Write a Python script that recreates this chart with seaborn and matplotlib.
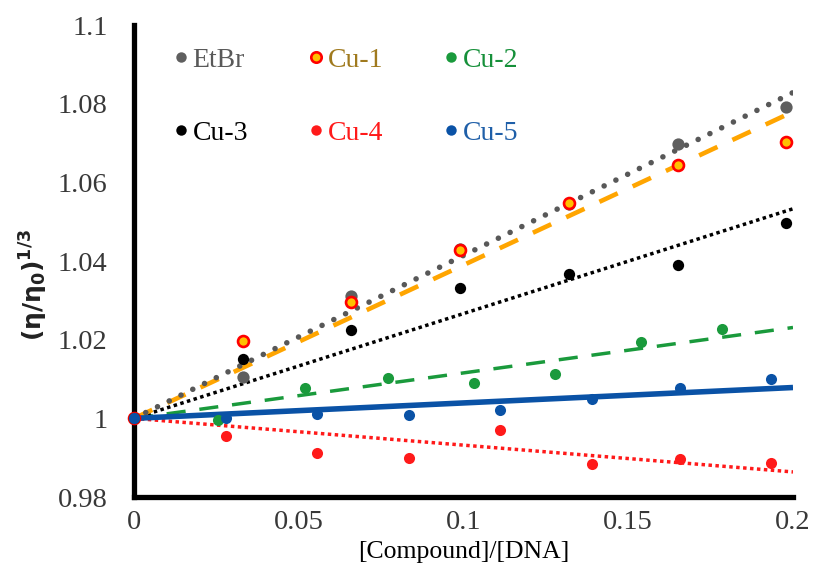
import numpy as np
import pandas as pd
import matplotlib
matplotlib.use("Agg")
import matplotlib.pyplot as plt
from matplotlib.lines import Line2D
import seaborn as sns

# ---- data ----
x_a = [0, 0.033, 0.066, 0.099, 0.132, 0.165, 0.198]          # EtBr, Cu-1, Cu-3
etbr = [1.0, 1.0106, 1.031, 1.043, 1.0545, 1.0698, 1.0792]
cu1 = [1.0, 1.0196, 1.0296, 1.0427, 1.0548, 1.0645, 1.0703]
cu3 = [1.0, 1.0152, 1.0224, 1.0332, 1.0368, 1.039, 1.0497]
x_b = [0, 0.0256, 0.0518, 0.0771, 0.1031, 0.1278, 0.1538, 0.1784]  # Cu-2
cu2 = [1.0, 0.9995, 1.0076, 1.0103, 1.0091, 1.0112, 1.0194, 1.0228]
x_c = [0, 0.028, 0.0556, 0.0834, 0.111, 0.139, 0.1658, 0.1934]     # Cu-4, Cu-5
cu4 = [1.0, 0.9955, 0.9913, 0.990, 0.997, 0.9883, 0.9896, 0.9887]
cu5 = [1.0, 1.0, 1.0012, 1.0008, 1.0021, 1.0048, 1.0076, 1.0099]

series_names = ["EtBr", "Cu-1", "Cu-2", "Cu-3", "Cu-4", "Cu-5"]
x_ticks = [0, 0.05, 0.1, 0.15, 0.2]
x_tick_labels = ["0", "0.05", "0.1", "0.15", "0.2"]
y_ticks = [0.98, 1.0, 1.02, 1.04, 1.06, 1.08, 1.1]
y_tick_labels = ["0.98", "1", "1.02", "1.04", "1.06", "1.08", "1.1"]

sns.set_theme(style="white")
plt.rcParams["font.family"] = ["Liberation Serif", "DejaVu Serif"]

fig = plt.figure(figsize=(8.13, 5.78), dpi=100)
ax = fig.add_axes([0.1648, 0.1401, 0.8106, 0.8166])

data = {
    "EtBr": (x_a, etbr),
    "Cu-1": (x_a, cu1),
    "Cu-2": (x_b, cu2),
    "Cu-3": (x_a, cu3),
    "Cu-4": (x_c, cu4),
    "Cu-5": (x_c, cu5),
}

line_style = {
    "Cu-1": dict(color="#FFA500", lw=3.3, ls=(0, (4.4, 3.6)), dash_capstyle="butt"),
    "EtBr": dict(color="#585858", lw=4.0, ls=(0, (0.01, 2.35)), dash_capstyle="round"),
    "Cu-2": dict(color="#1a9a3c", lw=2.5, ls=(0, (5.5, 4.0)), dash_capstyle="butt"),
    "Cu-3": dict(color="black", lw=2.5, ls=(0, (1, 1)), dash_capstyle="butt"),
    "Cu-4": dict(color="#ff1a1a", lw=2.5, ls=(0, (1, 1)), dash_capstyle="butt"),
    "Cu-5": dict(color="#0a52a6", lw=4.0, ls="-", solid_capstyle="butt"),
}

marker_style = {
    "EtBr": dict(color="#5f5f5f", edgecolor="#5f5f5f", s=78, linewidth=0),
    "Cu-1": dict(color="#FFC000", edgecolor="#ff0000", s=62, linewidth=1.9),
    "Cu-2": dict(color="#1a9a3c", edgecolor="#1a9a3c", s=64, linewidth=0),
    "Cu-3": dict(color="black", edgecolor="black", s=66, linewidth=0),
    "Cu-4": dict(color="#ff1a1a", edgecolor="#ff1a1a", s=64, linewidth=0),
    "Cu-5": dict(color="#0a52a6", edgecolor="#0a52a6", s=64, linewidth=0),
}

# trend lines (least squares, forced through (0, 1))
xfit = np.array([0.0, 0.2])
for name in ["Cu-2", "Cu-4", "Cu-3", "Cu-1", "EtBr", "Cu-5"]:
    xs, ys = np.array(data[name][0]), np.array(data[name][1])
    slope = np.sum(xs * (ys - 1.0)) / np.sum(xs ** 2)
    fit_df = pd.DataFrame({"x": xfit, "y": 1.0 + slope * xfit})
    st = dict(line_style[name])
    ls = st.pop("ls")
    lw = st.pop("lw")
    color = st.pop("color")
    sns.lineplot(data=fit_df, x="x", y="y", ax=ax, color=color, linewidth=lw,
                 linestyle=ls, zorder=3, legend=False, **st)

for name in series_names:
    xs, ys = data[name]
    df = pd.DataFrame({"x": xs, "y": ys})
    sns.scatterplot(data=df, x="x", y="y", ax=ax, zorder=4, clip_on=False,
                    legend=False, **marker_style[name])

ax.set_xlim(0, 0.2)
ax.set_ylim(0.98, 1.1)
ax.set_xticks(x_ticks)
ax.set_xticklabels(x_tick_labels)
ax.set_yticks(y_ticks)
ax.set_yticklabels(y_tick_labels)
ax.tick_params(axis="both", length=0, labelsize=20.5, colors="#383838")
ax.tick_params(axis="y", pad=19)
ax.tick_params(axis="x", pad=9)

for s in ["top", "right"]:
    ax.spines[s].set_visible(False)
for s in ["left", "bottom"]:
    ax.spines[s].set_color("black")
    ax.spines[s].set_linewidth(3.8)
    ax.spines[s].set_zorder(2)

ax.set_xlabel("[Compound]/[DNA]", fontsize=18.5, color="black", labelpad=5)
ax.set_ylabel("(η/η$_\\mathregular{0}$)$^\\mathregular{1/3}$", fontsize=18, color="#222222",
              family=["DejaVu Sans"], fontweight="bold")
ax.yaxis.set_label_coords(-0.128, 0.45)

# legend
legend_order = ["EtBr", "Cu-3", "Cu-1", "Cu-4", "Cu-2", "Cu-5"]
text_colors = {"EtBr": "#595959", "Cu-1": "#a07a1e", "Cu-2": "#16903a",
               "Cu-3": "black", "Cu-4": "#ff1a1a", "Cu-5": "#1f5fa8"}
handles = []
for name in legend_order:
    ms = marker_style[name]
    handles.append(Line2D([], [], linestyle="none", marker="o", markersize=7.5,
                          markerfacecolor=ms["color"], markeredgecolor=ms["edgecolor"],
                          markeredgewidth=ms["linewidth"]))
leg = ax.legend(handles, legend_order, ncol=3, loc="upper left",
                bbox_to_anchor=(0.0624, 0.952), frameon=False, fontsize=20,
                handlelength=0.4, handletextpad=0.23, columnspacing=2.23,
                labelspacing=1.69, borderpad=0, borderaxespad=0)
for txt, name in zip(leg.get_texts(), legend_order):
    txt.set_color(text_colors[name])

fig.savefig("out.png", dpi=100)
